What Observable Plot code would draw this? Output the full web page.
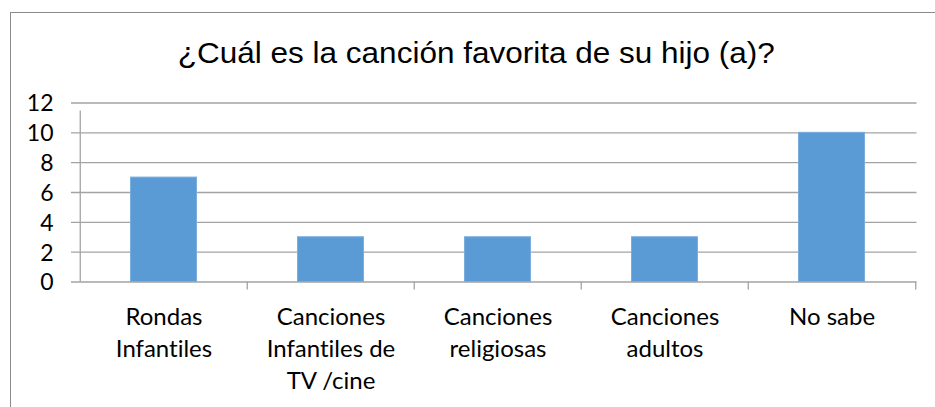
<!DOCTYPE html>
<html>
<head>
<meta charset="utf-8">
<script src="https://cdn.jsdelivr.net/npm/d3@7"></script>
<script src="https://cdn.jsdelivr.net/npm/@observablehq/plot@0.6"></script>
<style>
  html, body { margin: 0; padding: 0; background: #fff; }
  #wrap { position: relative; width: 935px; height: 407px; overflow: hidden; background: #fff; }
  #border { position: absolute; left: 10px; top: 12px; width: 960px; height: 440px; border: 1px solid #8a8a8a; box-sizing: border-box; }
  #title { position: absolute; left: 0; top: 38px; width: 935px; text-align: center; font-family: "Liberation Sans", Arial, sans-serif; font-size: 30px; line-height: 1; color: #000; white-space: nowrap; }
  #title span { display: inline-block; transform: scaleX(1.05); transform-origin: center; margin-left: 17px; }
  #chart { position: absolute; left: 0; top: 0; }
  #chart svg text { font-variant-ligatures: none; }
</style>
</head>
<body>
<div id="wrap">
  <div id="border"></div>
  <div id="title"><span>¿Cuál es la canción favorita de su hijo (a)?</span></div>
  <div id="chart"></div>
</div>
<script>
const categories = [
  "Rondas\nInfantiles",
  "Canciones\nInfantiles de\nTV /cine",
  "Canciones\nreligiosas",
  "Canciones\nadultos",
  "No sabe"
];
const values = [7, 3, 3, 3, 10];
const yTicks = [0, 2, 4, 6, 8, 10, 12];

const data = categories.map((c, i) => ({category: c, value: values[i]}));

const W = 935, H = 407;
const mL = 79, mR = 18.5, mT = 102.5, mB = 125.5;
const bw = (W - mL - mR) / categories.length;
const gridColor = "#a3a3a3";

const chart = Plot.plot({
  width: W,
  height: H,
  marginLeft: mL,
  marginRight: mR,
  marginTop: mT,
  marginBottom: mB,
  style: {fontFamily: "Lato, 'Noto Sans', sans-serif", fontSize: "24px", color: "#000", background: "transparent", overflow: "visible"},
  x: {domain: categories, padding: 0},
  y: {domain: [0, 12]},
  marks: [
    Plot.ruleY(yTicks, {y: d => d, stroke: gridColor, strokeWidth: 1.3, strokeOpacity: 1, insetLeft: -8}),
    Plot.barY(data, {x: "category", y: "value", fill: "#5b9bd5", stroke: "#7aaedd", strokeWidth: 1, insetLeft: 50.5, insetRight: 50.5}),
    Plot.ruleX(categories, {x: d => d, dx: -bw / 2, y1: 0, y2: 12, stroke: gridColor, strokeWidth: 1.3, insetBottom: -8, filter: (d, i) => i === 0}),
    Plot.ruleX(categories, {x: d => d, dx: -bw / 2, y1: 0, y2: 0, stroke: gridColor, strokeWidth: 1.3, insetBottom: -8, filter: (d, i) => i > 0}),
    Plot.ruleX(categories.slice(-1), {x: d => d, dx: bw / 2, y1: 0, y2: 0, stroke: gridColor, strokeWidth: 1.3, insetBottom: -8}),
    Plot.axisY({ticks: yTicks, tickSize: 0, tickPadding: 26, fill: "#000", fontSize: 23, label: null, dy: 1}),
    Plot.axisX({tickSize: 0, tickPadding: 20, lineHeight: 1.34, fill: "#000", fontSize: 24, label: null})
  ]
});
document.getElementById("chart").appendChild(chart);
</script>
</body>
</html>
